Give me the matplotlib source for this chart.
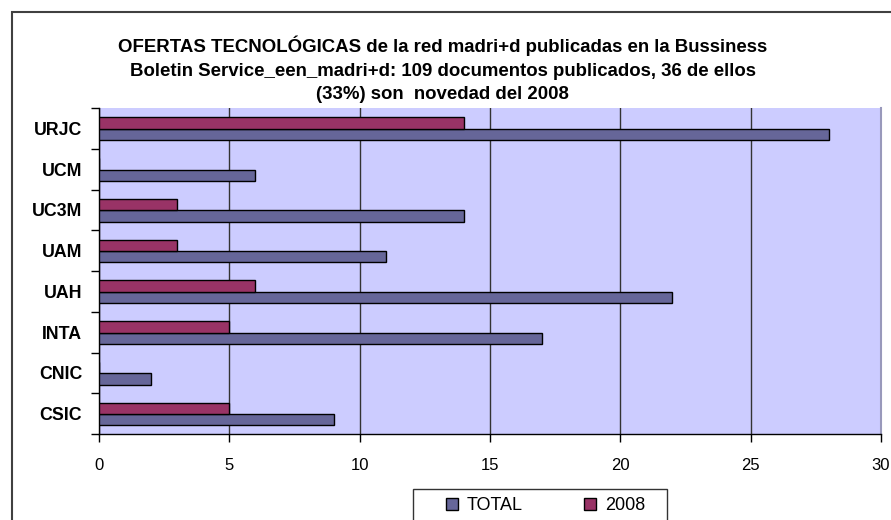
import matplotlib.pyplot as plt
from matplotlib.patches import Rectangle, Patch

plt.rcParams['font.family'] = ['Liberation Sans', 'DejaVu Sans']

# Data
centros = ['CSIC', 'CNIC', 'INTA', 'UAH', 'UAM', 'UC3M', 'UCM', 'URJC']
total = [9, 2, 17, 22, 11, 14, 6, 28]
nuevas_2008 = [5, 0, 5, 6, 3, 3, 0, 14]
x_ticks = [0, 5, 10, 15, 20, 25, 30]

titulo = ('OFERTAS TECNOLÓGICAS de la red madri+d publicadas en la Bussiness\n'
          'Boletin Service_een_madri+d: 109 documentos publicados, 36 de ellos\n'
          '(33%) son  novedad del 2008')

c_total = '#666699'
c_2008 = '#993366'
fondo = '#CCCCFF'

W, H = 891, 520
fig = plt.figure(figsize=(W / 100, H / 100), dpi=100)

# outer chart border
fig.patches.append(Rectangle((12 / W, -0.05), 1.1, 1 - 12 / H + 0.05,
                             transform=fig.transFigure, fill=False,
                             edgecolor='#404040', linewidth=1.5))

ax = fig.add_axes([99 / W, 1 - 434 / H, (881 - 99) / W, (434 - 108) / H])
ax.set_facecolor(fondo)

y = list(range(len(centros)))
h = 0.28
ax.barh([v - 0.15 for v in y], total, height=h, color=c_total,
        edgecolor='black', linewidth=1, zorder=3)
ax.barh([v + 0.13 for v in y], nuevas_2008, height=h, color=c_2008,
        edgecolor='black', linewidth=1, zorder=3)

ax.set_xlim(0, 30)
ax.set_ylim(-0.5, len(centros) - 0.5)
ax.set_xticks(x_ticks)
ax.set_xticklabels([str(t) for t in x_ticks], fontsize=12)
ax.tick_params(axis='x', direction='out', length=6, width=1, pad=11)

ax.set_yticks(y)
ax.set_yticklabels(centros, fontsize=12.8, fontweight='bold')
ax.tick_params(axis='y', which='major', length=0, pad=12)
ax.set_yticks([v - 0.5 for v in range(len(centros) + 1)], minor=True)
ax.tick_params(axis='y', which='minor', direction='out', length=6, width=1)

ax.grid(axis='x', color='#333333', linewidth=1, zorder=1)
ax.spines['top'].set_visible(False)
ax.spines['right'].set_color('#9999BB')
ax.spines['right'].set_linewidth(1.5)
ax.spines['left'].set_linewidth(1)
ax.spines['bottom'].set_linewidth(1)

fig.text(0.497, 1 - 35.5 / H, titulo, ha='center', va='top', fontsize=13.4,
         fontweight='bold', linespacing=1.5)

# legend frame (extends past the bottom edge as in the original)
fig.patches.append(Rectangle((413 / W, -0.05), (667 - 413) / W,
                             (520 - 489) / H + 0.05,
                             transform=fig.transFigure, fill=True,
                             facecolor='white', edgecolor='#333333',
                             linewidth=1, zorder=5))
handles = [Patch(facecolor=c_total, edgecolor='black', label='TOTAL'),
           Patch(facecolor=c_2008, edgecolor='black', label='2008')]
leg = fig.legend(handles=handles, loc='center left', ncol=2,
                 bbox_to_anchor=(446 / W, 1 - 506 / H), fontsize=13,
                 frameon=False, handlelength=0.65, handleheight=0.65,
                 handletextpad=0.5, columnspacing=3.4, borderpad=0,
                 borderaxespad=0)
leg.set_zorder(6)

fig.savefig('out.png', dpi=100)
